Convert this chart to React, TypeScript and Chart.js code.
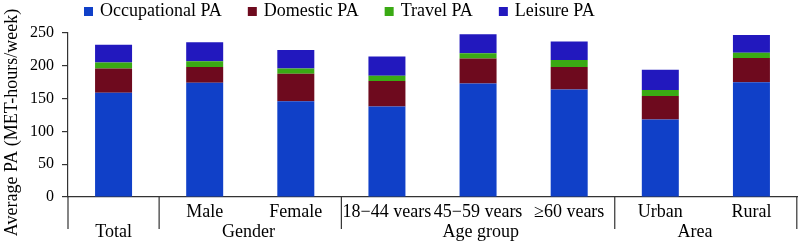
import React, { useEffect, useRef } from "react";
import { Chart, registerables } from "chart.js";

Chart.register(...registerables);

const innerLabels = ["", "Male", "Female", "18\u221244 years", "45\u221259 years", "\u226560 years", "Urban", "Rural"];
const groupLabels = ["Total", "Gender", "Age group", "Area"];
const groupSizes = [1, 2, 3, 2];
const groupCenters = [0, 1.48, 4.03, 6.38];

const occupational = [159, 174, 146, 138, 173, 164, 118, 175];
const domestic = [37, 24, 42, 39, 38, 34, 36, 37];
const travel = [9, 9, 8, 8, 8, 11, 9, 8];
const leisure = [27, 29, 28, 29, 29, 28, 31, 27];

const yTicks = [0, 50, 100, 150, 200, 250];
const yTitle = "Average PA (MET-hours/week)";

const FONT = "'Liberation Serif', 'Times New Roman', serif";

const colors = ["#1040C8", "#6E0A1E", "#3AAA14", "#2218BE"];

const customPlugin = {
  id: "custom",
  afterDraw(chart: any) {
    const ctx = chart.ctx;
    const xs = chart.scales.x;
    const area = chart.chartArea;
    ctx.save();
    // group separators
    ctx.strokeStyle = "#333";
    ctx.lineWidth = 1.2;
    const bounds: number[] = [-0.5];
    let acc = -0.5;
    groupSizes.forEach((s) => {
      acc += s;
      bounds.push(acc);
    });
    bounds.forEach((b) => {
      let px = xs.getPixelForValue(b);
      px = Math.min(px, chart.width - 1.2);
      ctx.beginPath();
      ctx.moveTo(px, area.bottom);
      ctx.lineTo(px, area.bottom + 32);
      ctx.stroke();
    });
    // y title
    ctx.fillStyle = "#000";
    ctx.font = `18px ${FONT}`;
    ctx.textAlign = "center";
    ctx.textBaseline = "middle";
    ctx.translate(12, 122.5);
    ctx.rotate(-Math.PI / 2);
    ctx.fillText(yTitle, 0, 0);
    ctx.restore();

    // legend
    ctx.save();
    ctx.font = `18px ${FONT}`;
    ctx.textAlign = "left";
    ctx.textBaseline = "alphabetic";
    let x = 84;
    chart.data.datasets.forEach((ds: any) => {
      ctx.fillStyle = ds.backgroundColor;
      ctx.fillRect(x, 7, 9, 9);
      ctx.fillStyle = "#000";
      ctx.fillText(ds.label, x + 16, 16);
      x += 16 + ctx.measureText(ds.label).width + 26;
    });
    ctx.restore();
  },
};

export default function App() {
  const ref = useRef<HTMLCanvasElement | null>(null);
  useEffect(() => {
    document.body.style.margin = "0";
    const canvas = ref.current;
    if (!canvas) return;
    const chart = new Chart(canvas, {
      type: "bar",
      data: {
        labels: innerLabels,
        datasets: [
          { label: "Occupational PA", data: occupational, backgroundColor: colors[0], xAxisID: "x", yAxisID: "y" },
          { label: "Domestic PA", data: domestic, backgroundColor: colors[1], xAxisID: "x", yAxisID: "y" },
          { label: "Travel PA", data: travel, backgroundColor: colors[2], xAxisID: "x", yAxisID: "y" },
          { label: "Leisure PA", data: leisure, backgroundColor: colors[3], xAxisID: "x", yAxisID: "y" },
        ],
      },
      options: {
        animation: false,
        responsive: false,
        devicePixelRatio: 1,
        datasets: { bar: { barPercentage: 0.406, categoryPercentage: 1 } },
        layout: { padding: { top: 33, right: 1, bottom: 0, left: 0 } },
        plugins: { legend: { display: false }, tooltip: { enabled: false } },
        scales: {
          x: {
            type: "category",
            stacked: true,
            offset: true,
            position: "bottom",
            grid: { display: false, drawTicks: false },
            border: { display: true, color: "#333", width: 1.2 },
            ticks: { color: "#000", font: { family: FONT, size: 18 }, padding: 4, autoSkip: false, maxRotation: 0 },
            afterFit: (axis: any) => {
              axis.height = 20;
            },
          },
          x2: {
            type: "linear",
            position: "bottom",
            offset: false,
            min: -0.5,
            max: 7.5,
            grid: { display: false, drawTicks: false, offset: false },
            border: { display: false },
            ticks: {
              color: "#000",
              font: { family: FONT, size: 18 },
              padding: 4,
              autoSkip: false,
              maxRotation: 0,
              callback: (_v: any, i: number) => groupLabels[i],
            },
            afterBuildTicks: (axis: any) => {
              axis.ticks = groupCenters.map((v) => ({ value: v }));
            },
            afterFit: (axis: any) => {
              axis.height = 26;
            },
          },
          y: {
            type: "linear",
            stacked: true,
            min: 0,
            max: 250,
            afterBuildTicks: (axis: any) => {
              axis.ticks = yTicks.map((v) => ({ value: v }));
            },
            grid: { drawOnChartArea: false, drawTicks: true, tickLength: 6, color: "#333", lineWidth: 1.2 },
            border: { display: true, color: "#333", width: 1.2 },
            ticks: { color: "#000", font: { family: FONT, size: 16 }, padding: 8 },
            afterFit: (axis: any) => {
              axis.width = 68;
            },
          },
        },
      },
      plugins: [customPlugin],
    });
    return () => chart.destroy();
  }, []);
  return (
    <div style={{ width: 798, height: 243 }}>
      <canvas ref={ref} width={798} height={243} />
    </div>
  );
}
